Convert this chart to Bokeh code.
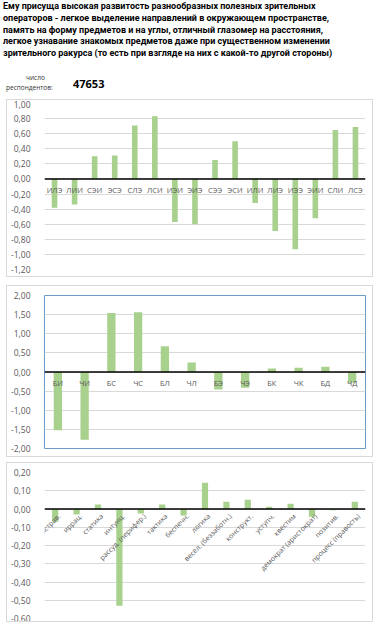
import math
from bokeh.plotting import figure
from bokeh.models import (Div, FixedTicker, Range1d, LabelSet, Label, Span,
                          ColumnDataSource, BoxAnnotation)
from bokeh.core.properties import value
from bokeh.layouts import column
from bokeh.embed import file_html
from bokeh.resources import INLINE

# ---------------- data ----------------
title_lines = [
    "Ему присуща высокая развитость разнообразных полезных зрительных",
    "операторов - легкое выделение направлений в окружающем пространстве,",
    "память на форму предметов и на углы, отличный глазомер на расстояния,",
    "легкое узнавание знакомых предметов даже при существенном изменении",
    "зрительного ракурса (то есть при взгляде на них с какой-то другой стороны)",
]
resp_label_1 = "число"
resp_label_2 = "респондентов:"
resp_count = "47653"

types = ["ИЛЭ", "ЛИИ", "СЭИ", "ЭСЭ", "СЛЭ", "ЛСИ", "ИЭИ", "ЭИЭ",
         "СЭЭ", "ЭСИ", "ИЛИ", "ЛИЭ", "ИЭЭ", "ЭИИ", "СЛИ", "ЛСЭ"]
type_values = [-0.38, -0.34, 0.30, 0.31, 0.71, 0.83, -0.57, -0.60,
               0.25, 0.50, -0.32, -0.69, -0.93, -0.52, 0.65, 0.69]
type_ticks = [1.0, 0.8, 0.6, 0.4, 0.2, 0.0, -0.2, -0.4, -0.6, -0.8, -1.0, -1.2]
type_tick_labels = ["1,00", "0,80", "0,60", "0,40", "0,20", "0,00", "-0,20",
                    "-0,40", "-0,60", "-0,80", "-1,00", "-1,20"]

functions = ["БИ", "ЧИ", "БС", "ЧС", "БЛ", "ЧЛ", "БЭ", "ЧЭ", "БК", "ЧК", "БД", "ЧД"]
function_values = [-1.52, -1.77, 1.54, 1.56, 0.67, 0.25, -0.46, -0.41,
                   0.09, 0.11, 0.14, -0.28]
function_ticks = [2.0, 1.5, 1.0, 0.5, 0.0, -0.5, -1.0, -1.5, -2.0]
function_tick_labels = ["2,00", "1,50", "1,00", "0,50", "0,00", "-0,50",
                        "-1,00", "-1,50", "-2,00"]

traits = ["экстрав.", "иррац.", "статика", "интуиц.", "рассуд. (перифер.)",
          "тактика", "беспечн.", "логика", "весел. (беззаботн.)", "конструкт.",
          "уступч.", "квестим", "демократ (аристократ)", "позитив.",
          "процесс (правость)"]
trait_values = [-0.07, -0.03, 0.024, -0.53, -0.024, 0.024, -0.036, 0.144,
                0.04, 0.051, 0.013, 0.029, -0.042, -0.007, 0.04]
trait_ticks = [0.2, 0.1, 0.0, -0.1, -0.2, -0.3, -0.4, -0.5, -0.6]
trait_tick_labels = ["0,20", "0,10", "0,00", "-0,10", "-0,20", "-0,30",
                     "-0,40", "-0,50", "-0,60"]

# ---------------- style ----------------
FONT = "Open Sans"
BAR = "#a9d18e"
GRID = "#d9d9d9"
LABEL = "#595959"


def bar_chart(cats, vals, ticks, tick_labels, w, h, borders, bar_w,
              outline=None, margin=(0, 0, 0, 0)):
    left, right, top, bottom = borders
    p = figure(x_range=cats, y_range=Range1d(min(ticks), max(ticks)),
               width=w, height=h, output_backend="svg", toolbar_location=None,
               min_border_left=left, min_border_right=right,
               min_border_top=top, min_border_bottom=bottom,
               background_fill_color="white", border_fill_color="white",
               margin=margin)
    p.styles = {"border": "1px solid #d9d9d9", "box-sizing": "border-box"}
    p.x_range.range_padding = 0
    p.vbar(x=cats, top=vals, width=bar_w, color=BAR, line_color=None)

    p.outline_line_color = outline
    p.xgrid.visible = False
    p.ygrid.grid_line_color = GRID
    p.ygrid.grid_line_width = 1
    p.ygrid.ticker = FixedTicker(ticks=ticks)

    ya = p.yaxis[0]
    ya.ticker = FixedTicker(ticks=ticks)
    ya.major_label_overrides = {t: l for t, l in zip(ticks, tick_labels)}
    ya.axis_line_color = None
    ya.major_tick_line_color = None
    ya.minor_tick_line_color = None
    ya.major_label_standoff = 8
    ya.major_label_text_font = FONT
    ya.major_label_text_font_size = "8.5px"
    ya.major_label_text_color = LABEL

    p.xaxis.visible = False
    p.add_layout(Span(location=0, dimension="width", line_color="black",
                      line_width=1.5))
    return p


def add_labelset(p, cats, y_off, size):
    # horizontal category labels at the zero line, through the plot's scales
    src = ColumnDataSource(dict(x=cats, y=[0] * len(cats), text=cats))
    p.add_layout(LabelSet(x="x", y="y", text="text", source=src,
                          text_align="center", text_baseline="middle",
                          y_offset=y_off,
                          text_font=value(FONT), text_font_size=value(size),
                          text_color=LABEL))


def add_rotated_labels(p, cats, size):
    # rotated category labels; factor i is centred at i + 0.5 on the range
    for i, c in enumerate(cats):
        p.add_layout(Label(x=i + 0.5, y=0, text=c, angle=math.pi / 4,
                           text_align="right", text_baseline="middle",
                           x_offset=4, y_offset=-6,
                           text_font=FONT, text_font_size=size,
                           text_color=LABEL))


p1 = bar_chart(types, type_values, type_ticks, type_tick_labels,
               367, 178, (30, 1, 3, 9), 0.28, margin=(2, 0, 0, 6))
add_labelset(p1, types, -11, "7.5px")

p2 = bar_chart(functions, function_values, function_ticks,
               function_tick_labels, 367, 172, (32, 9, 9, 10), 0.31,
               outline="#6f9cc6", margin=(8, 0, 0, 6))
add_labelset(p2, functions, -11, "7.5px")

p3 = bar_chart(traits, trait_values, trait_ticks, trait_tick_labels,
               367, 160, (32, 9, 9, 5), 0.29, margin=(5, 0, 0, 6))
add_rotated_labels(p3, traits, "7px")

# other worksheet frames peeking in at the bottom edge of the screenshot
p3.add_layout(BoxAnnotation(left=-8, right=121, top=155, bottom=170,
                            left_units="canvas", right_units="canvas",
                            top_units="canvas", bottom_units="canvas",
                            fill_color="white", fill_alpha=1.0,
                            line_color="#bfbfbf", line_width=1))
p3.add_layout(BoxAnnotation(left=218, right=380, top=155, bottom=170,
                            left_units="canvas", right_units="canvas",
                            top_units="canvas", bottom_units="canvas",
                            fill_color="white", fill_alpha=1.0,
                            line_color="#bfbfbf", line_width=1))

title_html = (
    '<div style="position:relative;width:379px;height:97px;">'
    '<div style="position:absolute;left:3px;top:1px;font-family:Roboto,sans-serif;'
    'font-weight:bold;font-size:9px;line-height:11.8px;color:#000;white-space:nowrap;">'
    + "<br>".join(title_lines) +
    '</div>'
    '<div style="position:absolute;left:26px;top:73px;font-family:\'Open Sans\';font-size:6.5px;color:#333;">'
    + resp_label_1 + '</div>'
    '<div style="position:absolute;left:6px;top:83px;font-family:\'Open Sans\';font-size:6.5px;color:#333;">'
    + resp_label_2 + '</div>'
    '<div style="position:absolute;left:73px;top:76px;font-family:\'Open Sans\';font-weight:bold;font-size:11px;color:#000;">'
    + resp_count + '</div>'
    '</div>'
)
title_div = Div(text=title_html, width=379, height=97, margin=(0, 0, 0, 0))

layout = column(title_div, p1, p2, p3, spacing=0, margin=(0, 0, 0, 0))

open("out.html", "w").write(file_html(layout, INLINE))
